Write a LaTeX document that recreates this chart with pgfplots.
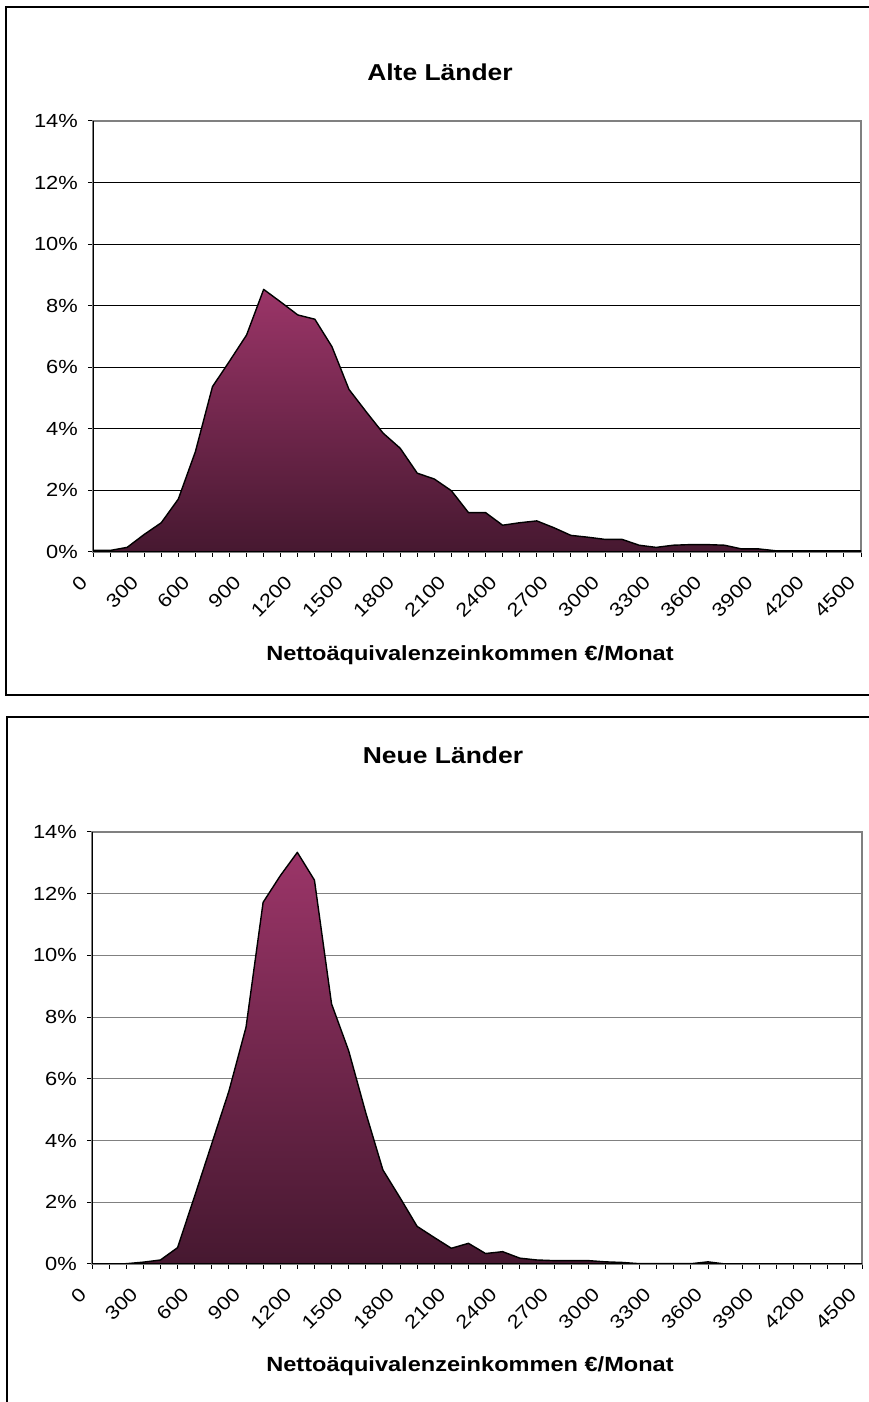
\documentclass[border=0pt]{standalone}
\usepackage{pgfplots}
\pgfplotsset{compat=1.18}
\usepackage{fontspec}
\setmainfont{Liberation Sans}[FakeStretch=1.15]
\definecolor{areatop}{RGB}{155,53,104}
\definecolor{areabot}{RGB}{70,24,48}
\definecolor{grid2}{RGB}{128,128,128}

\pgfplotsset{
  dist/.style={
    scale only axis,
    xmin=0, xmax=4500, ymin=0, ymax=14,
    axis lines=box,
    axis line style={grid2, line width=1.2pt},
    xtick={0,300,...,4500},
    minor xtick={0,100,...,4500},
    ytick={0,2,...,14},
    xtick pos=bottom, ytick pos=left,
    tick align=outside,
    major tick length=5pt, minor tick length=5pt,
    tick style={black, line width=1pt},
    /pgf/number format/assume math mode=true,
    /pgf/number format/1000 sep={},
    ymajorgrids,
    yticklabel={\pgfmathprintnumber{\tick}\%},
    ticklabel style={font=\fontsize{19}{22}\selectfont},
    yticklabel style={anchor=east, inner sep=0pt, xshift=-10pt},
    xticklabel style={inner sep=0pt, anchor=north east, xshift=-14pt, yshift=-17pt, rotate=45},
  },
  areaplot/.style={draw=black, line width=1.4pt, line join=round, top color=areatop, bottom color=areabot},
}

\begin{document}
\begin{tikzpicture}[x=1pt,y=1pt]
\useasboundingbox (0,0) rectangle (869,1402);

% frames
\draw[black, line width=1.3pt] (6,1395) rectangle (875,707);
\draw[black, line width=1.3pt] (7,-10) -- (7,685) -- (875,685);

% ---------------- Alte Laender ----------------
\begin{axis}[dist, at={(93pt,850pt)}, anchor=south west, width=768pt, height=431pt,
  grid style={black, line width=1pt}]
\addplot[areaplot] table {
x y
0 0.05
100 0.05
200 0.15
300 0.57
400 0.95
500 1.72
600 3.26
700 5.37
800 6.20
900 7.05
1000 8.53
1100 8.12
1200 7.70
1300 7.56
1400 6.67
1500 5.28
1600 4.56
1700 3.86
1800 3.37
1900 2.56
2000 2.37
2100 1.99
2200 1.28
2300 1.28
2400 0.87
2500 0.95
2600 1.01
2700 0.79
2800 0.54
2900 0.48
3000 0.41
3100 0.41
3200 0.22
3300 0.15
3400 0.22
3500 0.24
3600 0.24
3700 0.22
3800 0.10
3900 0.10
4000 0.04
4100 0.04
4200 0.04
4300 0.04
4400 0.04
4500 0.04
} \closedcycle;
\draw[black, line width=1.2pt] (rel axis cs:0,1) -- (rel axis cs:0,0) -- (rel axis cs:1,0);
\end{axis}
\node[font=\bfseries\fontsize{23}{27}\selectfont] at (440,1330) {Alte Länder};
\node[font=\bfseries\fontsize{20.5}{24}\selectfont] at (470,747) {Nettoäquivalenzeinkommen €/Monat};

% ---------------- Neue Laender ----------------
\begin{axis}[dist, at={(92pt,138pt)}, anchor=south west, width=770pt, height=432pt,
  grid style={grid2, line width=1.2pt}]
\addplot[areaplot] table {
x y
0 0
100 0
200 0.01
300 0.06
400 0.13
500 0.53
600 2.20
700 3.90
800 5.60
900 7.67
1000 11.72
1100 12.58
1200 13.34
1300 12.44
1400 8.43
1500 6.91
1600 4.90
1700 3.05
1800 2.15
1900 1.22
2000 0.86
2100 0.51
2200 0.67
2300 0.34
2400 0.40
2500 0.19
2600 0.13
2700 0.11
2800 0.11
2900 0.11
3000 0.07
3100 0.05
3200 0.01
3300 0.01
3400 0.01
3500 0.01
3600 0.07
3700 0
3800 0
3900 0
4000 0
4100 0
4200 0
4300 0
4400 0
4500 0
} \closedcycle;
\draw[black, line width=1.2pt] (rel axis cs:0,1) -- (rel axis cs:0,0) -- (rel axis cs:1,0);
\end{axis}
\node[font=\bfseries\fontsize{23}{27}\selectfont] at (443,647) {Neue Länder};
\node[font=\bfseries\fontsize{20.5}{24}\selectfont] at (470,36) {Nettoäquivalenzeinkommen €/Monat};
\end{tikzpicture}
\end{document}
